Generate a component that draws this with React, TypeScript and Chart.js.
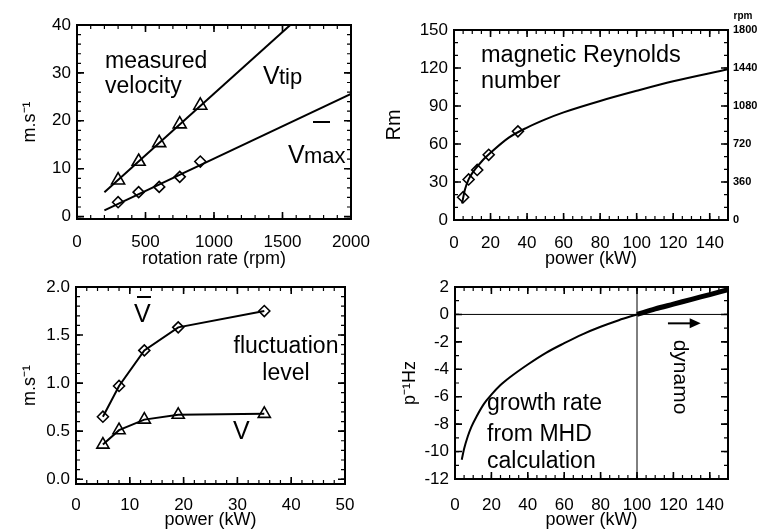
import React, { useEffect, useRef } from 'react';
import { Chart, registerables } from 'chart.js';

Chart.register(...registerables);

const FONT = "'Liberation Sans', Arial, Helvetica, sans-serif";
const TICK = 17;

// ---------- Panel 1: measured velocity ----------
const rotationRpm = [300, 450, 600, 750, 900];
const vTipMeasured = [7.6, 11.5, 15.4, 19.3, 23.2];
const vMaxMeasured = [3.0, 5.1, 6.2, 8.3, 11.5];
const vTipFitRpm = [200, 2000];
const vTipFit = [5.1, 51.4];
const vMaxFitRpm = [200, 2000];
const vMaxFit = [1.3, 25.6];
const rpmAxisTicks = [0, 500, 1000, 1500, 2000];
const velocityAxisTicks = [0, 10, 20, 30, 40];

// ---------- Panel 2: magnetic Reynolds number ----------
const rmPower = [5, 8, 12.7, 19, 35];
const rmMeasured = [18, 32, 39.5, 51.5, 70];
const rmCurvePower = [4.4, 6, 8, 10, 15, 20, 30, 40, 50, 60, 80, 100, 120, 150];
const rmCurve = [13, 24, 32, 37, 46, 53, 65, 73, 79.5, 85, 94, 102, 109.5, 119];
const powerTicks150 = [0, 20, 40, 60, 80, 100, 120, 140];
const rmAxisTicks = [0, 30, 60, 90, 120, 150];
const rpmRightTicks = [0, 360, 720, 1080, 1440, 1800];

// ---------- Panel 3: fluctuation level ----------
const fluctPower = [5, 8, 12.7, 19, 35];
const vMeanLevel = [0.65, 0.97, 1.34, 1.58, 1.75];
const vFluctLevel = [0.36, 0.51, 0.62, 0.67, 0.68];
const powerTicks50 = [0, 10, 20, 30, 40, 50];
const levelAxisTicks = [0, 0.5, 1.0, 1.5, 2.0];

// ---------- Panel 4: growth rate ----------
const growthPower = [3.7, 5, 7, 9, 12, 16, 20, 25, 30, 40, 50, 60, 70, 80, 90, 100];
const growthRate = [-10.6, -9.8, -8.9, -8.2, -7.4, -6.5, -5.85, -5.15, -4.6, -3.65, -2.8, -2.1, -1.45, -0.9, -0.42, 0];
const dynamoPower = [100, 110, 120, 130, 140, 150];
const dynamoRate = [0, 0.4, 0.75, 1.1, 1.45, 1.8];
const thresholdPower = [100, 100];
const thresholdSpan = [-12, 2];
const zeroLinePower = [0, 150];
const zeroLineRate = [0, 0];
const growthAxisTicks = [-12, -10, -8, -6, -4, -2, 0, 2];

const pts = (xs: number[], ys: number[]) => xs.map((x, i) => ({ x, y: ys[i] }));

const lineDs = (data: any[], width = 2) => ({
  data,
  showLine: true,
  borderColor: '#000',
  borderWidth: width,
  pointRadius: 0,
  fill: false,
  tension: 0,
});

const curveDs = (data: any[], width = 2) => ({
  ...lineDs(data, width),
  cubicInterpolationMode: 'monotone',
});

const markerDs = (data: any[], style: string, r: number, withLine = false) => ({
  data,
  showLine: withLine,
  borderColor: '#000',
  borderWidth: 2,
  pointStyle: style,
  pointRadius: r,
  pointBorderColor: '#000',
  pointBackgroundColor: 'rgba(0,0,0,0)',
  pointBorderWidth: 1.6,
  fill: false,
});

// box around the plot area, following the axis ranges
const boxDs = (x: any, y: any) => ({
  ...lineDs(pts([x.min, x.max, x.max, x.min, x.min], [y.min, y.min, y.max, y.max, y.min]), 2),
  clip: false,
  borderJoinStyle: 'miter',
});

function minorVals(min: number, max: number, step: number) {
  const out: number[] = [];
  if (!(step > 0)) return out;
  const start = Math.ceil(min / step - 1e-9);
  const end = Math.floor(max / step + 1e-9);
  for (let i = start; i <= end; i++) out.push(i * step);
  return out;
}

function decorate(chart: any, spec: any) {
  const ctx = chart.ctx;
  const ox = spec.canvas.left;
  const oy = spec.canvas.top;
  const xs = chart.scales.x;
  const ys = chart.scales.y;
  const L = chart.chartArea.left;
  const R = chart.chartArea.right;
  const T = chart.chartArea.top;
  const B = chart.chartArea.bottom;
  ctx.save();
  ctx.globalAlpha = 1;
  ctx.globalCompositeOperation = 'source-over';
  ctx.fillStyle = '#000';
  ctx.strokeStyle = '#000';
  ctx.lineWidth = 1.2;
  ctx.beginPath();
  minorVals(xs.min, xs.max, spec.frame.xMinor).forEach((v) => {
    const p = xs.getPixelForValue(v);
    ctx.moveTo(p, B);
    ctx.lineTo(p, B - 4);
    ctx.moveTo(p, T);
    ctx.lineTo(p, T + 4);
  });
  minorVals(ys.min, ys.max, spec.frame.yMinor).forEach((v) => {
    const p = ys.getPixelForValue(v);
    ctx.moveTo(L, p);
    ctx.lineTo(L + 4, p);
    ctx.moveTo(R, p);
    ctx.lineTo(R - 4, p);
  });
  ctx.stroke();
  ctx.lineWidth = 1.6;
  ctx.beginPath();
  spec.x.ticks.forEach((v: number) => {
    const p = xs.getPixelForValue(v);
    ctx.moveTo(p, B);
    ctx.lineTo(p, B - 7);
    ctx.moveTo(p, T);
    ctx.lineTo(p, T + 7);
  });
  spec.y.ticks.forEach((v: number) => {
    const p = ys.getPixelForValue(v);
    ctx.moveTo(L, p);
    ctx.lineTo(L + 7, p);
    ctx.moveTo(R, p);
    ctx.lineTo(R - 7, p);
  });
  ctx.stroke();
  ctx.lineWidth = 2;
  ctx.strokeRect(L, T, R - L, B - T);

  const nt = spec.notes || {};
  (nt.texts || []).forEach((t: any) => {
    ctx.save();
    ctx.font = `${t.weight || 'normal'} ${t.size}px ${FONT}`;
    ctx.textAlign = t.align || 'left';
    ctx.textBaseline = t.baseline || 'alphabetic';
    ctx.translate(t.x - ox, t.y - oy);
    if (t.rot) ctx.rotate((t.rot * Math.PI) / 180);
    ctx.fillText(t.text, 0, 0);
    ctx.restore();
  });
  (nt.lines || []).forEach((l: any) => {
    ctx.lineWidth = l.w || 2;
    ctx.beginPath();
    ctx.moveTo(l.x1 - ox, l.y1 - oy);
    ctx.lineTo(l.x2 - ox, l.y2 - oy);
    ctx.stroke();
  });
  (nt.arrows || []).forEach((a: any) => {
    const x1 = xs.getPixelForValue(a.x1);
    const x2 = xs.getPixelForValue(a.x2);
    const y = ys.getPixelForValue(a.y);
    ctx.lineWidth = 2;
    ctx.beginPath();
    ctx.moveTo(x1, y);
    ctx.lineTo(x2 - 8, y);
    ctx.stroke();
    ctx.beginPath();
    ctx.moveTo(x2, y);
    ctx.lineTo(x2 - 11, y - 5);
    ctx.lineTo(x2 - 11, y + 5);
    ctx.closePath();
    ctx.fill();
  });
  ctx.restore();
}

function buildConfig(spec: any) {
  const c = spec.canvas;
  const a = spec.area;
  const rightWidth = c.left + c.w - a.r;
  const padding = { left: 0, top: a.t - c.top, right: 0, bottom: 0 };
  const yWidth = a.l - c.left;
  const xHeight = c.top + c.h - a.b;
  const xTitlePad = c.top + c.h - spec.x.titleY - (spec.x.titleSize * 1.2) / 2;
  const yTitlePad = spec.y.titleX - c.left - (spec.y.titleSize * 1.2) / 2;
  const border = { display: true, color: '#000', width: 2 };
  const noGrid = { display: false, drawTicks: false };

  const decor = {
    id: 'decor' + spec.key,
    afterDraw(chart: any) {
      decorate(chart, spec);
    },
  };

  const scales: any = {
    x: {
      type: 'linear',
      position: 'bottom',
      min: spec.x.min,
      max: spec.x.max,
      grid: { ...noGrid },
      border: { ...border },
      ticks: {
        font: { family: FONT, size: TICK },
        color: '#000',
        padding: spec.x.labelPad,
        autoSkip: false,
        maxRotation: 0,
        callback: (v: any) => String(v),
      },
      afterBuildTicks: (s: any) => {
        s.ticks = spec.x.ticks.map((v: number) => ({ value: v }));
      },
      afterFit: (s: any) => {
        s.height = xHeight;
      },
      title: {
        display: true,
        text: spec.x.title,
        color: '#000',
        font: { family: FONT, size: spec.x.titleSize },
        padding: { top: 0, bottom: xTitlePad },
      },
    },
    y: {
      type: 'linear',
      position: 'left',
      min: spec.y.min,
      max: spec.y.max,
      grid: { ...noGrid },
      border: { ...border },
      ticks: {
        font: { family: FONT, size: TICK },
        color: '#000',
        padding: 6,
        autoSkip: false,
        callback: spec.y.fmt || ((v: any) => String(v)),
      },
      afterBuildTicks: (s: any) => {
        s.ticks = spec.y.ticks.map((v: number) => ({ value: v }));
      },
      afterFit: (s: any) => {
        s.width = yWidth;
      },
      title: {
        display: true,
        text: spec.y.title,
        color: '#000',
        font: { family: FONT, size: spec.y.titleSize },
        padding: { top: yTitlePad, bottom: 0 },
      },
    },
    yRight: {
      type: 'linear',
      position: 'right',
      min: spec.y2 ? spec.y2.min : spec.y.min,
      max: spec.y2 ? spec.y2.max : spec.y.max,
      grid: { ...noGrid },
      border: { ...border },
      ticks: spec.y2
        ? {
            display: true,
            font: { family: FONT, size: 11, weight: 'bold' },
            color: '#000',
            padding: 5,
            autoSkip: false,
            callback: (v: any) => String(v),
          }
        : { display: false },
      afterBuildTicks: (s: any) => {
        s.ticks = (spec.y2 ? spec.y2.ticks : spec.y.ticks).map((v: number) => ({ value: v }));
      },
      afterFit: (s: any) => {
        s.width = rightWidth;
      },
    },
  };

  return {
    type: 'scatter',
    data: {
      datasets: [
        ...spec.datasets.map((d: any) => ({ ...d, data: d.data.map((p: any) => ({ ...p })) })),
        boxDs(spec.x, spec.y),
      ],
    },
    options: {
      responsive: false,
      animation: false,
      events: [],
      devicePixelRatio: 1,
      layout: { padding },
      scales,
      plugins: {
        legend: { display: false },
        tooltip: { enabled: false },
      },
    },
    plugins: [decor],
  };
}

const panels: any[] = [
  {
    key: 'velocity',
    canvas: { left: 0, top: 0, w: 384, h: 270 },
    area: { l: 77, r: 351, t: 25, b: 219 },
    x: { min: 0, max: 2000, ticks: rpmAxisTicks, title: 'rotation rate (rpm)', titleSize: 18, titleY: 259, labelPad: 13 },
    y: { min: -0.5, max: 40, ticks: velocityAxisTicks, title: 'm.s⁻¹', titleSize: 18, titleX: 30 },
    frame: { xMinor: 100, yMinor: 2 },
    datasets: [
      markerDs(pts(rotationRpm, vTipMeasured), 'triangle', 7.5),
      markerDs(pts(rotationRpm, vMaxMeasured), 'rectRot', 5.5),
      lineDs(pts(vTipFitRpm, vTipFit)),
      lineDs(pts(vMaxFitRpm, vMaxFit)),
    ],
    notes: {
      texts: [
        { text: 'measured', x: 105, y: 68, size: 23 },
        { text: 'velocity', x: 105, y: 93, size: 23 },
        { text: 'V', x: 263, y: 84, size: 25 },
        { text: 'tip', x: 279, y: 84, size: 22 },
        { text: 'V', x: 288, y: 163, size: 25 },
        { text: 'max', x: 304, y: 163, size: 22 },
      ],
      lines: [{ x1: 313, y1: 122, x2: 330, y2: 122, w: 2 }],
    },
  },
  {
    key: 'reynolds',
    canvas: { left: 376, top: 0, w: 393, h: 270 },
    area: { l: 454, r: 728, t: 30, b: 220 },
    x: { min: 0, max: 150, ticks: powerTicks150, title: 'power (kW)', titleSize: 18, titleY: 259, labelPad: 13 },
    y: { min: 0, max: 150, ticks: rmAxisTicks, title: 'Rm', titleSize: 20, titleX: 394 },
    y2: { min: 0, max: 1800, ticks: rpmRightTicks },
    frame: { xMinor: 5, yMinor: 10 },
    datasets: [
      markerDs(pts(rmPower, rmMeasured), 'rectRot', 5.5),
      curveDs(pts(rmCurvePower, rmCurve)),
    ],
    notes: {
      texts: [
        { text: 'magnetic Reynolds', x: 481, y: 62, size: 23.5 },
        { text: 'number', x: 481, y: 88, size: 23.5 },
        { text: 'rpm', x: 743, y: 19, size: 10, align: 'center', weight: 'bold' },
      ],
    },
  },
  {
    key: 'fluct',
    canvas: { left: 0, top: 270, w: 384, h: 261 },
    area: { l: 76, r: 345, t: 287, b: 484 },
    x: { min: 0, max: 50, ticks: powerTicks50, title: 'power (kW)', titleSize: 18, titleY: 520, labelPad: 11 },
    y: { min: -0.05, max: 2.0, ticks: levelAxisTicks, title: 'm.s⁻¹', titleSize: 18, titleX: 30, fmt: (v: any) => Number(v).toFixed(1) },
    frame: { xMinor: 2, yMinor: 0.1 },
    datasets: [
      markerDs(pts(fluctPower, vMeanLevel), 'rectRot', 5.5, true),
      markerDs(pts(fluctPower, vFluctLevel), 'triangle', 7, true),
    ],
    notes: {
      texts: [
        { text: 'V', x: 134, y: 322, size: 25 },
        { text: 'fluctuation', x: 286, y: 353, size: 23, align: 'center' },
        { text: 'level', x: 286, y: 380, size: 23, align: 'center' },
        { text: 'V', x: 233, y: 439, size: 25 },
      ],
      lines: [{ x1: 137, y1: 297, x2: 151, y2: 297, w: 2 }],
    },
  },
  {
    key: 'growth',
    canvas: { left: 384, top: 270, w: 385, h: 261 },
    area: { l: 455, r: 728, t: 287, b: 479 },
    x: { min: 0, max: 150, ticks: powerTicks150, title: 'power (kW)', titleSize: 18, titleY: 520, labelPad: 16 },
    y: { min: -12, max: 2, ticks: growthAxisTicks, title: 'p⁻¹Hz', titleSize: 18, titleX: 410 },
    frame: { xMinor: 5, yMinor: 1 },
    datasets: [
      curveDs(pts(dynamoPower, dynamoRate), 5),
      curveDs(pts(growthPower, growthRate), 2),
      lineDs(pts(zeroLinePower, zeroLineRate), 1),
      lineDs(pts(thresholdPower, thresholdSpan), 1),
    ],
    notes: {
      texts: [
        { text: 'growth rate', x: 487, y: 410, size: 23 },
        { text: 'from MHD', x: 487, y: 441, size: 23 },
        { text: 'calculation', x: 487, y: 468, size: 23 },
        { text: 'dynamo', x: 680, y: 377, size: 21, align: 'center', baseline: 'middle', rot: 90 },
      ],
      arrows: [{ x1: 117, x2: 135, y: -0.65 }],
    },
  },
];

function Panel({ spec }: { spec: any }) {
  const ref = useRef<HTMLCanvasElement | null>(null);
  useEffect(() => {
    if (!ref.current) return;
    const chart = new Chart(ref.current, buildConfig(spec) as any);
    return () => chart.destroy();
  }, [spec]);
  const c = spec.canvas;
  return (
    <canvas
      ref={ref}
      width={c.w}
      height={c.h}
      style={{ position: 'absolute', left: c.left, top: c.top, width: c.w, height: c.h }}
    />
  );
}

export default function App() {
  return (
    <div style={{ position: 'absolute', left: 0, top: 0, width: 769, height: 531, background: '#fff' }}>
      {panels.map((p) => (
        <Panel key={p.key} spec={p} />
      ))}
    </div>
  );
}
